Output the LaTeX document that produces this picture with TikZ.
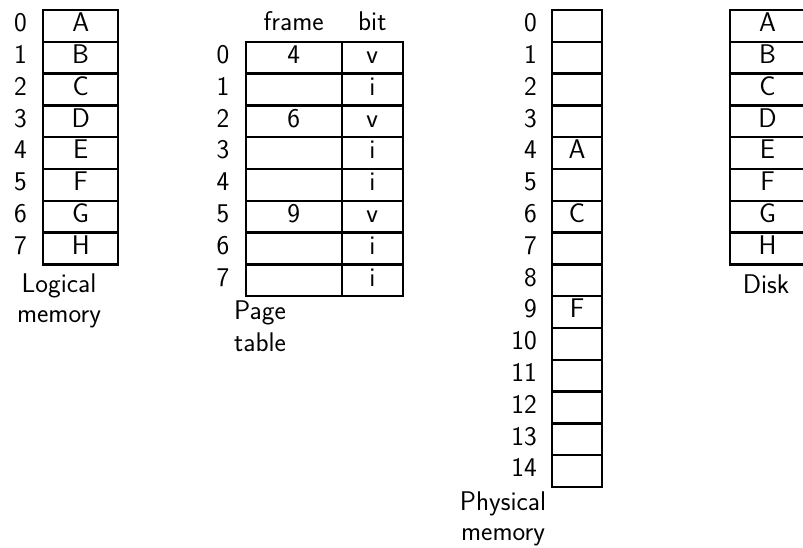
\documentclass[tikz,border=0pt]{standalone}
\begin{document}
\begin{tikzpicture}[x=1pt,y=-1pt,
  grid/.style={line width=2.4pt},
  txt/.style={anchor=base,inner sep=0pt,font=\sffamily\fontsize{27}{32}\selectfont},
  txtr/.style={txt,anchor=base east},
  txtl/.style={txt,anchor=base west}]
\useasboundingbox (0,0) rectangle (803,547);
\def\rh{31.8}
\def\bl{21.7}

% Logical memory: pages A..H
\foreach \i/\l in {0/A,1/B,2/C,3/D,4/E,5/F,6/G,7/H} {
  \node[txt] (lmn\i) at (20.5,{10+\i*\rh+\bl}) {\i};
  \node[txt] (lm\i) at (80.7,{10+\i*\rh+\bl}) {\l};
}
\draw[grid] (43,10) rectangle (118,{10+8*\rh});
\foreach \i in {1,...,7} \draw[grid] (43,{10+\i*\rh}) -- (118,{10+\i*\rh});
\node[txt] (lmlab1) at (59,292) {Logical};
\node[txt] (lmlab2) at (59,322) {memory};

% Page table with frame numbers and valid/invalid bits
\node[txt] (hframe) at (293.7,30) {frame};
\node[txt] (hbit) at (372.3,30) {bit};
\foreach \i/\f/\b in {0/4/v,1//i,2/6/v,3//i,4//i,5/9/v,6//i,7//i} {
  \node[txt] (ptn\i) at (223,{10+(\i+1)*\rh+\bl}) {\i};
  \node[txt] (ptf\i) at (293.7,{10+(\i+1)*\rh+\bl}) {\f};
  \node[txt] (ptb\i) at (372.3,{10+(\i+1)*\rh+\bl}) {\b};
}
\draw[grid] (245.7,{10+\rh}) rectangle (403,{10+9*\rh});
\draw[grid] (341.7,{10+\rh}) -- (341.7,{10+9*\rh});
\foreach \i in {2,...,8} \draw[grid] (245.7,{10+\i*\rh}) -- (403,{10+\i*\rh});
\node[txtl] (ptlab1) at (234,319.3) {Page};
\node[txtl] (ptlab2) at (234,351.7) {table};

% Physical memory: frames 0..14
\foreach \i in {0,...,14} {
  \node[txtr] (pmn\i) at (537,{10+\i*\rh+\bl}) {\i};
}
\node[txt] (pm4) at (577,{10+4*\rh+\bl}) {A};
\node[txt] (pm6) at (577,{10+6*\rh+\bl}) {C};
\node[txt] (pm9) at (577,{10+9*\rh+\bl}) {F};
\draw[grid] (552,10) rectangle (602,{10+15*\rh});
\foreach \i in {1,...,14} \draw[grid] (552,{10+\i*\rh}) -- (602,{10+\i*\rh});
\node[txt] (pmlab1) at (503,510) {Physical};
\node[txt] (pmlab2) at (503,540) {memory};

% Backing store on disk
\foreach \i/\l in {0/A,1/B,2/C,3/D,4/E,5/F,6/G,7/H} {
  \node[txt] (dk\i) at (767.5,{10+\i*\rh+\bl}) {\l};
}
\draw[grid] (730,10) rectangle (805,{10+8*\rh});
\foreach \i in {1,...,7} \draw[grid] (730,{10+\i*\rh}) -- (805,{10+\i*\rh});
\node[txt] (dklab) at (766,293) {Disk};
\end{tikzpicture}
\end{document}
